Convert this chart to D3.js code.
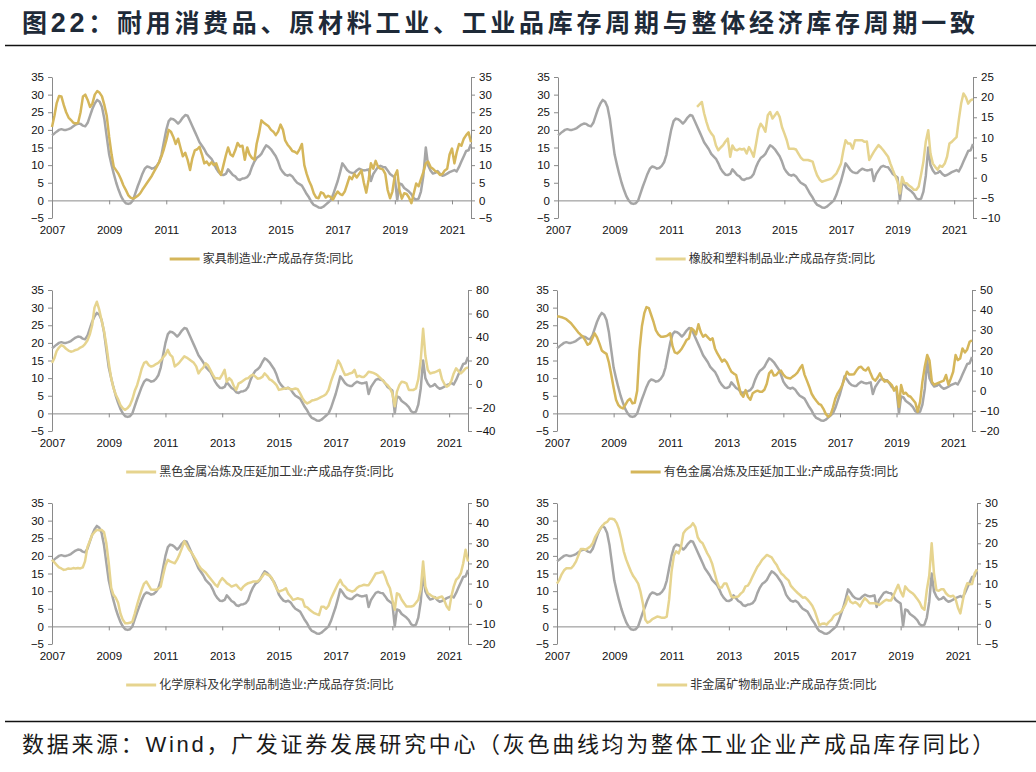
<!DOCTYPE html>
<html><head><meta charset="utf-8">
<script src="https://cdn.jsdelivr.net/npm/d3@7"></script>
<style>body{margin:0;background:#fff}</style>
</head><body>
<svg id="c" width="1036" height="772"></svg>
<script>
// ---------------- DATA ----------------
const firstMonth = [2007, 0];           // Jan 2007
const monthCount = 177;                 // to Sep 2021
const xTickYears = [2007, 2009, 2011, 2013, 2015, 2017, 2019, 2021];
const leftTicks = [-5, 0, 5, 10, 15, 20, 25, 30, 35];

// 整体工业企业产成品存货同比 (gray, left axis)
const overallInventory = [
18.5,19,19.5,20,20.2,20,20,20.2,20.5,21,21.5,21.8,
21.7,21.2,21,22,24,26,27.5,28.5,28,26.5,23,18,
13,10,7.5,5,3,1.2,0,-0.8,-1,-0.8,0,2,
4,5.8,7.5,9,9.6,9.4,9,9.2,9.8,10.8,13,16.5,
20,22.5,23.2,23,22.5,21.8,22.5,23.5,24.2,24,22.5,21,
19.5,18,16.5,15.5,14.5,13.2,12.5,11.8,10.5,9,8,7.3,
7.2,7.5,8.8,8,7.2,6.8,6,5.8,6.2,6.3,6.6,7.5,
9.5,11,12,12.5,13.2,14.5,15.6,15.2,14.5,13.5,12.5,11,
9,8,7.3,7,7.3,6.8,5.8,5,4.6,4.2,3,1.8,
0.8,-0.5,-1.3,-1.6,-2,-2.1,-1.8,-1.2,-0.6,0,1.5,3.5,
5.5,8,10.5,9.6,8.6,8,7.8,7.8,8.5,9,8.7,8.5,
8.6,8.8,5.5,7.5,8.5,9.5,9.8,9.5,9.4,8.5,7.5,7,
6.5,0,4.8,4.5,3.5,3,2.5,1.8,0.6,0.2,0.5,2.5,
7,15,10,8.5,7.6,7.8,8.3,7.5,7,7.2,7.6,8,
8.3,8.6,8.2,9.5,11,12.5,14,14.2,16];

const furniture = [
20.8,24,27.5,29.6,29.5,27,25,23.5,22.8,22,21.8,22,
25,29.5,30,28.5,26.5,27.5,30,31,30.5,29.5,27,24,
18,13,9.5,8.5,7.5,6,4.3,3,1.5,0.8,0.5,0.8,
1.3,2,3,4,5,6,7,8.3,9.5,10.8,12.5,14.5,
17,20,19.5,18,16,17.5,15,12.5,13.5,11.5,8.6,12,
14.2,14.5,15.2,13,10.5,11,10,10.8,10,10.5,8.5,7.2,
10,12.8,15,13,12.5,14.2,16.3,15.3,15.5,11.5,15,13,
12,11.5,16,19,22.7,22,21.5,21,20,19.5,18.5,19.5,
21.5,20,17,15.8,15,14,13.8,13.3,14.5,16,10,7.5,
5.5,4,2,0.8,0.6,2.3,2,0.8,1.3,1,0.2,1.5,
2.5,1.8,1.5,2.5,4.5,6.7,6,7.5,6.5,7.5,8.5,5,
2.2,6,10.5,9,11.2,9.5,9,8.8,7.5,3,0.6,2.5,
7,8.5,3,0.5,2,1.8,0.8,-0.8,2,4.8,4,6,
8,10.5,11,9.5,9,8.3,8,7.2,7.5,8.5,9,13,
14.7,10.5,13.5,16,15.5,17.5,18.5,19.3,16.5];

const rubberStart = 59;                 // Dec 2011
const rubber = [
17.6,18.2,18.8,16,13.8,12,11,10.3,8,6.8,7.5,8.1,9,
9.7,5.2,8,7,6.8,7.2,7,7.2,6,7.6,6.5,5.2,
8.5,12,13.4,12.6,11.4,15.5,16.3,14.7,15.5,16.3,15.1,12.6,
11,9.3,7.2,7.2,7.2,7,6,5,4.4,4.4,4.4,4.2,
4,2,0.5,-0.5,-1,-0.8,-0.6,-0.4,-0.2,0.4,1,2.2,
3.5,6.8,9.3,8.5,8.5,7.2,9.3,9.3,9.3,9.3,8.9,9,
4.4,5.5,6.4,7.3,8.1,7.5,6.8,6,5.2,3.5,1.9,0.5,
-1,-3.9,0.2,-1.4,-1.4,-2,-2.4,-3,-3,-2.2,0.8,4,
9,11.8,6,3.5,2.7,2,3,2.7,3.5,5.2,8.5,8.9,
9.5,10.1,14.3,18.4,20.9,20,18.4,19.2,19.5];

const ferrous = [
18,22,28,31,33,32,30,28.5,27.5,28,29,29.5,
31,32,34,37,42,50,65,70,63,54,45,33,
18,5,-3,-9,-13,-18,-20.7,-22,-20.5,-18,-13,-6,
-1,6,13,18,19,16,14.8,15.5,17,18,20,22.5,
25,29,25,23,15,16.5,18.5,21,23.5,22.5,21,19.5,
18,15,9,12,14,17.6,16,12,8,4.8,5,4.5,
8,12,2,5,3,-2,-5,0.6,1.5,3,4.5,5,
7,8,6.5,4.5,4.8,6,9,7,4,3,1.2,-1,
-5,-4.5,-4,-3.7,-3.5,-4.5,-4.5,-3.8,-4.5,-8,-12,-15,
-16.5,-15.5,-14,-13.6,-13,-12,-11,-10,-8.5,-5,2,7.7,
13,20,17,12,7.7,8,9,9.5,12,6,7,6,
6,8,10.5,10,9.5,8.5,7,5,3,0.6,-1,-3.7,
-8,-19,-6.5,-1,2,1.5,0.6,-5,-5,-5,-3.7,4,
20,47,24,12,9,9.5,10,11,12,4,0,-2.3,
-1,3,9,13.3,11,9,11,13.3,14];

const nonferrous = [
36.8,36.8,36.5,36,35.5,34.5,33.5,32,30.5,29,27.8,26.8,
25,22.8,23.5,26,28.5,26.5,23.5,20,19,18.3,14,8,
1.5,-4.5,-7,-8.3,-8.8,-7,-5,-4,-6.3,-6,0,20,
32,38.5,41.5,41,37.6,34,30,28,26.8,26.8,27,27.5,
28.5,22,19,18.5,19.5,21,23,25.2,26,31,30,28,
33,29,26.8,27.8,26.5,25.2,26,21,18.5,16.5,14.4,15.5,
14,11.5,9.4,8.5,7.8,3,-1.5,-3,0.3,-3,-4.5,-1.3,
-0.5,0,-0.5,-0.5,0.5,3.5,8.6,10,7.5,7.8,9.3,10,
8,6.8,6.3,6.1,7,7.8,9,11,12.7,8,5,2,
-1.5,-3.5,-5,-6.5,-7,-9,-11.5,-12.9,-12,-8.5,-4,-1.3,
0.5,3,6.1,9.4,8,8,8.2,10,11.5,11.9,10.5,10,
11.5,8.5,6,5,6.5,8.6,6,4.5,5,4,2.8,0,
2,-8,2.8,-1.5,-1,-2.5,-3,-4.5,-6,-10.4,-5.5,4.5,
12,17.7,15,4.5,3,3.5,4,4.5,5,7.8,3,6,
9.4,17.7,15.2,16,21,19,20.5,24.3,25];

const chemical = [
21.8,20.5,19.3,18,17.5,16.8,17,17.5,17.3,17.7,17.5,17.7,
17.5,18,21,28,31,34.2,35.5,36.7,36.5,36.7,35.5,30,
20.1,8,4.5,3,0.5,-5,-8,-9.7,-9.7,-9.5,-8.9,-5,
-0.6,3.5,6.9,10,11,9,7,6.9,6.9,7.5,8.5,14,
19,21.8,21,20.5,20.1,22,24.5,27.6,31,29,26.8,25.5,
23.5,21.5,19.3,17.5,16.5,15.5,14,12.5,11,9.5,8.5,11,
12.7,11.5,10.2,9.5,8.5,9,9.4,8,6.9,8.5,9.5,10.2,
10.5,11,11,11,12,13.5,15.2,14.5,14,12.8,10.2,7.5,
6,6.5,6.9,7.7,5,3.6,1.9,2.3,2.7,2.3,2,-1.4,
-1.8,-3,-3.9,-4.7,-5.2,-5.6,-1.5,-1.5,-2.5,-1,2.5,5,
7.5,10,11.9,9.5,8.5,7,6.5,6,6.5,7.8,8.7,9,
9.4,9.2,9.2,11,13,15,15.2,15.5,16,13.5,10,7.7,
2,-3,5.2,4.5,2,0.2,-1.4,-1.4,-1.4,-1,0.5,2,
6.9,21,8.5,5.2,4.5,3.6,3,2.7,3.2,3.6,1.5,-1.4,
-3,4,8.5,11.9,13,15.2,20,26.8,21];

const nonmetal = [
10,11,12.3,13.3,13.8,13.8,13.8,14.5,15.5,17,18.6,18.6,
18.4,18.8,19.2,20,21.5,22.5,23.5,24.3,25,25.3,26.1,26.1,
25.9,25,23.5,21,18,16,14.5,13,11.8,11,10,8,
5,1,0.3,0.6,1.2,1.5,1.8,1.7,1.5,1.5,1.8,6,
13,17,18,17.5,19,22.5,23.3,23.8,24.2,25,24,21.5,
20.5,20,18.8,17.5,16.5,15,12.8,10.5,9,9,10,10,
8.5,6.8,6.5,6.7,6.8,7.5,8,9.3,9.5,10.5,11.8,13,
14.2,15,15.9,16.5,17.1,16.8,16.5,15.5,14.7,13.5,12.5,12,
11.3,10.8,9.5,8.8,8.2,7.6,7.1,6.5,6.6,6,5.3,4.5,
3.2,1.4,-0.3,0,0.1,-0.2,0.5,1,2,2.4,2.6,3,
3.9,5,6.8,5.5,5.1,5.4,5,4.3,5.5,6.4,5.8,5.1,
5.1,5.1,5,4.7,5.1,5.6,6,5.8,5.8,7,8.4,9.7,
8,6.8,9.3,8.5,8,7.6,7,6.2,5.3,4,3.5,8.4,
12,20,12.6,8.4,8.2,8.6,8.6,7.6,7,6.8,7,6.2,
4,2.6,5.5,8.5,10.1,9.8,9.9,12.5,13.5];

const seriesNames = [
  "家具制造业:产成品存货:同比",
  "橡胶和塑料制品业:产成品存货:同比",
  "黑色金属冶炼及压延加工业:产成品存货:同比",
  "有色金属冶炼及压延加工业:产成品存货:同比",
  "化学原料及化学制品制造业:产成品存货:同比",
  "非金属矿物制品业:产成品存货:同比"
];
const seriesValues = [furniture, rubber, ferrous, nonferrous, chemical, nonmetal];
const seriesStarts = [0, rubberStart, 0, 0, 0, 0];
const rightTicks = [
  [-5,0,5,10,15,20,25,30,35],
  [-10,-5,0,5,10,15,20,25],
  [-40,-20,0,20,40,60,80],
  [-20,-10,0,10,20,30,40,50],
  [-20,-10,0,10,20,30,40,50],
  [-5,0,5,10,15,20,25,30]
];
const titleText = "耐用消费品、原材料工业、工业品库存周期与整体经济库存周期一致";
const footerText = "数据来源：Wind，广发证券发展研究中心（灰色曲线均为整体工业企业产成品库存同比）";

// ---------------- LAYOUT / STYLE ----------------
const layout = [
  {l:52,  r:471, t:77,  b:218},
  {l:558, r:973, t:77,  b:218},
  {l:52,  r:468, t:290, b:431},
  {l:557, r:972, t:290, b:431},
  {l:52,  r:468, t:503, b:644},
  {l:557, r:977, t:503, b:644}
];
const GOLD_DARK = "#D5B65A", GOLD_LIGHT = "#E6D48F", GRAY = "#A6A6A6";
const panelColors = [GOLD_DARK, GOLD_LIGHT, GOLD_LIGHT, GOLD_DARK, GOLD_LIGHT, GOLD_LIGHT];
const AXIS = "#8A8A8A";
const NUM_FONT = "'Liberation Sans', Arial, sans-serif";
const CJK_FONT = "'Noto Sans CJK SC', sans-serif";

const svg = d3.select("#c");
const monthDate = i => new Date(firstMonth[0], firstMonth[1] + i, 1);

// title
const title = svg.append("text").attr("x", 22).attr("y", 32)
  .attr("fill", "#1E2A38").attr("font-size", 25).attr("font-weight", "bold")
  .attr("font-family", CJK_FONT)
  .attr("textLength", 953).attr("lengthAdjust", "spacing");
title.append("tspan").text("图");
title.append("tspan").attr("font-family", NUM_FONT).attr("font-size", 27).text("22");
title.append("tspan").text("：" + titleText);
svg.append("line").attr("x1", 5).attr("x2", 1036).attr("y1", 45.5).attr("y2", 45.5)
  .attr("stroke", "#111").attr("stroke-width", 1.4);

// footer
svg.append("line").attr("x1", 5).attr("x2", 1036).attr("y1", 721.5).attr("y2", 721.5)
  .attr("stroke", "#111").attr("stroke-width", 1.4);
svg.append("text").attr("x", 22).attr("y", 752).attr("fill", "#1a1a1a")
  .attr("font-size", 22).attr("letter-spacing", 2.7)
  .attr("font-family", "'Liberation Sans', 'Noto Sans CJK SC', sans-serif")
  .text(footerText);

function styleAxis(g) {
  g.selectAll("path.domain").attr("stroke", AXIS).attr("stroke-width", 1);
  g.selectAll(".tick line").attr("stroke", AXIS);
  g.selectAll(".tick text").attr("fill", "#111").attr("font-size", 11.5).attr("font-family", NUM_FONT);
}

layout.forEach((p, k) => {
  const g = svg.append("g");
  const x = d3.scaleTime().domain([monthDate(0), monthDate(monthCount - 1)]).range([p.l, p.r]);
  const yL = d3.scaleLinear().domain([leftTicks[0], leftTicks[leftTicks.length - 1]]).range([p.b, p.t]);
  const rt = rightTicks[k];
  const yR = d3.scaleLinear().domain([rt[0], rt[rt.length - 1]]).range([p.b, p.t]);
  const tickDates = xTickYears.map(y => new Date(y, 0, 1));

  const ga = g.append("g").attr("transform", `translate(${p.l},0)`)
    .call(d3.axisLeft(yL).tickValues(leftTicks).tickSize(4).tickSizeOuter(0).tickPadding(4));
  styleAxis(ga);
  const gr = g.append("g").attr("transform", `translate(${p.r},0)`)
    .call(d3.axisRight(yR).tickValues(rt).tickSize(4).tickSizeOuter(0).tickPadding(4));
  styleAxis(gr);
  const gx = g.append("g").attr("transform", `translate(0,${yL(0)})`)
    .call(d3.axisBottom(x).tickValues(tickDates).tickSize(4).tickSizeOuter(0).tickFormat(""));
  styleAxis(gx);
  const gl = g.append("g").attr("transform", `translate(0,${p.b})`)
    .call(d3.axisBottom(x).tickValues(tickDates).tickSize(0).tickPadding(8).tickFormat(d3.timeFormat("%Y")));
  gl.select("path.domain").remove();
  styleAxis(gl);

  const line = (yScale, start) => d3.line()
    .x((d, i) => x(monthDate(start + i))).y(d => yScale(d)).curve(d3.curveLinear);
  g.append("path").datum(overallInventory).attr("fill", "none").attr("stroke", GRAY)
    .attr("stroke-width", 2.5).attr("stroke-linejoin", "round").attr("d", line(yL, 0));
  g.append("path").datum(seriesValues[k]).attr("fill", "none").attr("stroke", panelColors[k])
    .attr("stroke-width", 2.5).attr("stroke-linejoin", "round").attr("d", line(yR, seriesStarts[k]));

  // legend
  const lg = g.append("g");
  const lt = lg.append("text").attr("y", p.b + 45).attr("font-size", 12).attr("fill", "#333")
    .attr("font-family", CJK_FONT).text(seriesNames[k]);
  const tw = lt.node().getComputedTextLength();
  const total = 30 + 3 + tw;
  const sx = (p.l + p.r) / 2 - total / 2;
  lg.append("line").attr("x1", sx).attr("x2", sx + 30).attr("y1", p.b + 41).attr("y2", p.b + 41)
    .attr("stroke", panelColors[k]).attr("stroke-width", 3);
  lt.attr("x", sx + 33);
});
</script>
</body></html>
